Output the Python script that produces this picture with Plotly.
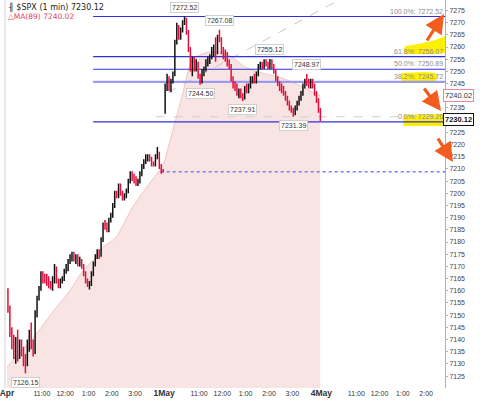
import plotly.graph_objects as go

# ---------------- data ----------------
SESSION = 405  # minutes per day column (09:30 - 16:15)

apr_open = [7160, 7153, 7143, 7138, 7135, 7139, 7133, 7138, 7135, 7131,
            7130, 7138, 7142, 7139, 7135, 7150, 7157, 7161, 7166, 7165,
            7165, 7163, 7162, 7161, 7165, 7169, 7164, 7162, 7164, 7165,
            7168, 7170, 7172, 7174, 7175, 7173, 7174, 7171, 7172, 7170,
            7167, 7164, 7162, 7163, 7167, 7171, 7174, 7176, 7175, 7181,
            7187, 7186, 7185, 7189, 7191, 7195, 7200, 7199, 7203, 7200,
            7198, 7199, 7201, 7205, 7207, 7206, 7205, 7204, 7205, 7208,
            7211, 7213, 7215, 7215, 7214, 7212, 7212, 7215, 7216, 7211, 7209]
apr_high = [7161, 7154, 7145, 7142, 7141, 7144, 7140, 7140, 7137, 7134,
            7140, 7144, 7147, 7140, 7152, 7158, 7162, 7168, 7168, 7167,
            7167, 7166, 7164, 7166, 7171, 7170, 7165, 7165, 7166, 7169,
            7171, 7173, 7175, 7176, 7176, 7175, 7175, 7174, 7173, 7171,
            7168, 7165, 7164, 7168, 7172, 7175, 7177, 7177, 7182, 7188,
            7189, 7188, 7190, 7192, 7196, 7201, 7201, 7204, 7204, 7201,
            7200, 7202, 7206, 7209, 7209, 7208, 7207, 7206, 7209, 7212,
            7214, 7216, 7216, 7216, 7215, 7213, 7216, 7219, 7217, 7212, 7210]
apr_low = [7151, 7141, 7136, 7132, 7130, 7131, 7132, 7133, 7129, 7126.15,
           7129, 7135, 7136, 7133, 7134, 7149, 7156, 7160, 7163, 7163,
           7162, 7161, 7160.5, 7160, 7163, 7163, 7161, 7161, 7163, 7164,
           7167, 7168, 7171, 7172, 7172, 7171, 7170, 7170, 7169, 7166,
           7163, 7161.5, 7160.5, 7162, 7166, 7170, 7173, 7173, 7174, 7180,
           7185, 7184, 7184, 7188, 7190, 7194, 7198, 7198, 7199, 7197,
           7197, 7198, 7200, 7204, 7205, 7204, 7203, 7203, 7204, 7207,
           7210, 7212, 7213, 7213, 7211, 7211, 7211, 7214, 7210, 7208, 7208.5]
apr_close = [7153, 7143, 7138, 7135, 7139, 7133, 7138, 7135, 7131, 7130,
             7138, 7142, 7139, 7135, 7150, 7157, 7161, 7166, 7165, 7165,
             7163, 7162, 7161, 7165, 7169, 7164, 7162, 7164, 7165, 7168,
             7170, 7172, 7174, 7175, 7173, 7174, 7171, 7172, 7170, 7167,
             7164, 7162, 7163, 7167, 7171, 7174, 7176, 7175, 7181, 7187,
             7186, 7185, 7189, 7191, 7195, 7200, 7199, 7203, 7200, 7198,
             7199, 7201, 7205, 7207, 7206, 7205, 7204, 7205, 7208, 7211,
             7213, 7215, 7215, 7214, 7212, 7212, 7215, 7216, 7211, 7209, 7208.8]

may_open = [7233, 7243, 7247, 7243, 7246, 7249, 7262, 7268, 7264, 7267,
            7270, 7271, 7266, 7259, 7252, 7254, 7251, 7253, 7248, 7246,
            7250, 7251, 7254, 7255, 7256, 7258, 7260, 7258, 7264, 7263,
            7258, 7257, 7256, 7253, 7252, 7247, 7244, 7243, 7241, 7242,
            7240, 7239, 7243, 7242, 7244, 7246, 7247, 7246, 7249, 7252,
            7253, 7252, 7254, 7253, 7252, 7254, 7252, 7250, 7247, 7245,
            7244, 7242, 7241, 7239, 7237, 7235, 7234, 7233, 7235, 7237,
            7239, 7241, 7244, 7246, 7245, 7244, 7246, 7244, 7241, 7238, 7234]
may_high = [7245, 7249, 7248, 7247, 7250, 7263, 7270, 7269, 7268, 7271,
            7272.52, 7272, 7267, 7260, 7256, 7256, 7255, 7254, 7249, 7251,
            7252, 7255, 7256, 7257, 7260, 7261, 7264, 7265, 7267.08, 7264,
            7260, 7259, 7258, 7255, 7253, 7248, 7246, 7245, 7243, 7243,
            7241, 7244, 7245, 7245, 7248, 7248, 7249, 7250, 7253, 7254,
            7254, 7255, 7255, 7254, 7255.12, 7255, 7253, 7251, 7248, 7246,
            7245, 7244, 7242, 7240, 7238, 7236, 7235, 7236, 7238, 7240,
            7242, 7245, 7247, 7248.97, 7247, 7247, 7247, 7245, 7242, 7239, 7235]
may_low = [7232.6, 7242, 7242, 7241.5, 7245, 7248, 7261, 7263, 7263, 7266,
           7269, 7265, 7258, 7250, 7248, 7250, 7250, 7247, 7244.5, 7245,
           7248, 7250, 7252, 7253, 7255, 7256, 7254, 7257, 7262, 7257,
           7255, 7254, 7252, 7251, 7246, 7243, 7242, 7240, 7239, 7239,
           7237.91, 7238.5, 7241, 7241, 7243, 7245, 7245, 7245, 7248, 7251,
           7251, 7251, 7252, 7251, 7251, 7251, 7249, 7246, 7244, 7242,
           7241, 7240, 7238, 7236, 7234, 7233, 7231.39, 7232, 7234, 7236,
           7238, 7240, 7243, 7244, 7243, 7243, 7243, 7240, 7237, 7233, 7229.5]
may_close = [7243, 7247, 7243, 7246, 7249, 7262, 7268, 7264, 7267, 7270,
             7271, 7266, 7259, 7252, 7254, 7251, 7253, 7248, 7246, 7250,
             7251, 7254, 7255, 7256, 7258, 7260, 7258, 7264, 7263, 7258,
             7257, 7256, 7253, 7252, 7247, 7244, 7243, 7241, 7242, 7240,
             7239, 7243, 7242, 7244, 7246, 7247, 7246, 7249, 7252, 7253,
             7252, 7254, 7253, 7252, 7254, 7252, 7250, 7247, 7245, 7244,
             7242, 7241, 7239, 7237, 7235, 7234, 7233, 7235, 7237, 7239,
             7241, 7244, 7246, 7245, 7244, 7246, 7244, 7241, 7238, 7234, 7230.12]

# MA(89): (day index, clock time, value)
ma_day = [0, 0, 0, 0, 0, 0, 0, 0, 0, 0, 0,
          1, 1, 1, 1, 1, 1, 1, 1, 1, 1, 1, 1, 1]
ma_clock = ["09:30", "10:39", "11:30", "12:13", "12:47", "13:12", "13:38", "14:11", "14:54", "15:38", "16:11",
            "09:30", "09:51", "10:17", "10:42", "11:16", "11:59", "12:25", "12:58", "13:41", "14:25", "15:05", "15:41", "16:12"]
ma_values = [7128.7, 7141.0, 7151.7, 7160.3, 7168.5, 7172.6, 7177.9, 7182.0, 7194.4, 7204.2, 7211.2,
             7212.8, 7225.1, 7240.3, 7254.7, 7257.6, 7258.0, 7255.9, 7251.8, 7249.4, 7247.7, 7245.3, 7242.4, 7240.02]

fib_names = ["100.0%", "61.8%", "50.0%", "38.2%", "0.0%"]
fib_values = [7272.52, 7256.07, 7250.89, 7245.72, 7229.26]
fib_start = (0, "13:12")

prev_close = 7208.80
prev_close_start = (0, "16:06")
low_line = 7231.39
low_line_start = (0, "15:53")
trend_pts = [(1, "09:39", 7241.2), (2, "10:15", 7279.3)]

ext_above = [7272.52, 7267.08, 7255.12, 7248.97]
ext_below = [7244.50, 7237.91, 7231.39, 7126.15]

last_price = 7230.12
ma_last = 7240.02

tick_day = [0, 0, 0, 0, 0, 0, 1, 1, 1, 1, 1, 1, 2, 2, 2, 2, 2]
tick_clock = ["09:30", "11:00", "12:00", "13:00", "14:00", "15:00",
              "09:30", "11:00", "12:00", "13:00", "14:00", "15:00",
              "09:30", "11:00", "12:00", "13:00", "14:00"]
tick_labels = ["Apr", "11:00", "12:00", "1:00", "2:00", "3:00",
               "1May", "11:00", "12:00", "1:00", "2:00", "3:00",
               "4May", "11:00", "12:00", "1:00", "2:00"]
day_labels = {"Apr", "1May", "4May"}
y_ticks = [7125, 7130, 7135, 7140, 7145, 7150, 7155, 7160, 7165, 7170, 7175, 7180, 7185, 7190, 7195,
           7200, 7205, 7210, 7215, 7220, 7225, 7230, 7235, 7240, 7245, 7250, 7255, 7260, 7265, 7270, 7275]

# ---------------- helpers ----------------
def tpos(day, clock):
    h, m = map(int, clock.split(":"))
    return day * SESSION + h * 60 + m - 570

W, H = 480, 400
ML, MR, MT, MB = 0, 35, 0, 12
PW, PH = W - ML - MR, H - MT - MB
PX_PER_MIN = 23.5 / 60.0
X0PX = 3.0
x_range = [(0 - X0PX) / PX_PER_MIN, (PW - X0PX) / PX_PER_MIN]
y_range = [7120.1, 7279.3]

def px(xp):  # pixel -> paper x
    return (xp - ML) / PW

def py(yp):  # pixel -> paper y
    return 1 - (yp - MT) / PH

bar_x = [tpos(0, "09:30") + 5 * i + 2.5 for i in range(len(apr_open))] + \
        [tpos(1, "09:30") + 5 * i + 2.5 for i in range(len(may_open))]
opens = apr_open + may_open
highs = apr_high + may_high
lows = apr_low + may_low
closes = apr_close + may_close

fig = go.Figure()

# MA(89) area
fig.add_trace(go.Scatter(
    x=[tpos(d, c) for d, c in zip(ma_day, ma_clock)], y=ma_values,
    mode="lines", line=dict(color="#f0c6c6", width=1, shape="spline", smoothing=0.6),
    fill="tozeroy", fillcolor="#f9e4e4", hoverinfo="skip"))

# trend line (gray dashed)
fig.add_trace(go.Scatter(
    x=[tpos(d, c) for d, c, v in trend_pts], y=[v for d, c, v in trend_pts],
    mode="lines", line=dict(color="#c8c8c8", width=1, dash="dash"), hoverinfo="skip"))

# low line (gray dashed)
fig.add_trace(go.Scatter(
    x=[tpos(*low_line_start), x_range[1]], y=[low_line, low_line],
    mode="lines", line=dict(color="#cfcfcf", width=1, dash="dash"), hoverinfo="skip"))

# previous close (dotted blue)
fig.add_trace(go.Scatter(
    x=[tpos(*prev_close_start), x_range[1]], y=[prev_close, prev_close],
    mode="lines", line=dict(color="#7a7af5", width=1.5, dash="dot"), hoverinfo="skip"))

# fib lines
for name, v in zip(fib_names, fib_values):
    light = name == "38.2%"
    fig.add_trace(go.Scatter(
        x=[tpos(*fib_start), x_range[1]], y=[v, v], mode="lines",
        line=dict(color="#9a9af2" if light else "#3030e0", width=2.4 if light else 1.2),
        hoverinfo="skip"))

# price bars (on an overlaid axis so they are drawn above the MA area)
fig.add_trace(go.Ohlc(
    x=bar_x, open=opens, high=highs, low=lows, close=closes, yaxis="y2",
    increasing=dict(line=dict(color="#111111", width=1.5)),
    decreasing=dict(line=dict(color="#e0103c", width=1.5)),
    tickwidth=0.35, hoverinfo="skip"))

annotations = []
lab_font = dict(family="Liberation Sans", size=7, color="#333")
for v in ext_above:
    k = highs.index(v)
    annotations.append(dict(x=bar_x[k], y=v, xref="x", yref="y", text=f"{v:.2f}", showarrow=False,
                            yshift=9, font=lab_font, bgcolor="white", bordercolor="#cfcfcf",
                            borderwidth=1, borderpad=1))
for v in ext_below:
    k = lows.index(v)
    annotations.append(dict(x=bar_x[k], y=v, xref="x", yref="y", text=f"{v:.2f}", showarrow=False,
                            yshift=-9, font=lab_font, bgcolor="white", bordercolor="#cfcfcf",
                            borderwidth=1, borderpad=1))

# fib texts
for name, v in zip(fib_names, fib_values):
    annotations.append(dict(x=1, y=v, xref="paper", yref="y", xanchor="right", yanchor="bottom",
                            text=f"{name}: {v:.2f}", showarrow=False, yshift=0,
                            font=dict(family="Liberation Sans", size=7, color="#8c8c8c")))

# header
annotations.append(dict(x=px(2), y=py(7), xref="paper", yref="paper", xanchor="left", yanchor="middle",
                        text="╢ $SPX (1 min) 7230.12", showarrow=False,
                        font=dict(family="DejaVu Sans", size=8, color="#222")))
annotations.append(dict(x=px(2), y=py(17), xref="paper", yref="paper", xanchor="left", yanchor="middle",
                        text="△MA(89) 7240.02", showarrow=False,
                        font=dict(family="DejaVu Sans", size=7.5, color="#e0426a")))

# right-axis value boxes
annotations.append(dict(x=px(443), y=ma_last, xref="paper", yref="y", xanchor="left", yanchor="middle",
                        text=f"{ma_last:.2f}", showarrow=False, bgcolor="white", bordercolor="#e8869c",
                        borderwidth=1, borderpad=1,
                        font=dict(family="Liberation Sans", size=7.5, color="#333")))
annotations.append(dict(x=px(443), y=last_price, xref="paper", yref="y", xanchor="left", yanchor="middle",
                        text=f"<b>{last_price:.2f}</b>", showarrow=False, bgcolor="white", bordercolor="#111",
                        borderwidth=1, borderpad=1,
                        font=dict(family="Liberation Sans", size=7.5, color="#111")))

# orange arrows (head, tail in pixels)
for (hx, hy), (tx, ty) in [((444, 14), (426, 42)), ((441, 111), (423, 87)), ((453, 162), (437, 137))]:
    annotations.append(dict(x=px(hx), y=py(hy), xref="paper", yref="paper", ax=tx - hx, ay=ty - hy,
                            axref="pixel", ayref="pixel", text="", showarrow=True,
                            arrowhead=2, arrowsize=1.2, arrowwidth=3.2, arrowcolor="#f25c1e"))

def path(points):
    return "M " + " L ".join(f"{px(a):.4f},{py(b):.4f}" for a, b in points) + " Z"

shapes = []
yellow = "#fff000"
for pts in [[(405, 46), (418, 44), (432, 41), (446, 36), (446, 53), (430, 54), (405, 54), (403, 50)],
            [(401, 73), (425, 72), (435, 73), (438, 77), (435, 82), (401, 83)],
            [(403, 115), (444, 114), (444, 126), (403, 126)]]:
    shapes.append(dict(type="path", path=path(pts), xref="paper", yref="paper",
                       fillcolor=yellow, line=dict(width=0), layer="below"))
shapes.append(dict(type="line", x0=px(1), x1=px(1), y0=0, y1=1, xref="paper", yref="paper",
                   line=dict(color="#d0d0d0", width=1)))

tick_text = []
for lab in tick_labels:
    if lab in day_labels:
        tick_text.append(f"<span style='font-size:8.5px'><b>{lab}</b></span>")
    else:
        tick_text.append(lab)

# tick labels hidden under the value boxes
covered = {round(last_price / 5) * 5, round(ma_last / 5) * 5}
y_ticktext = ["" if v in covered else str(v) for v in y_ticks]

fig.update_layout(
    width=W, height=H, margin=dict(l=ML, r=MR, t=MT, b=MB),
    paper_bgcolor="white", plot_bgcolor="white", showlegend=False,
    annotations=annotations, shapes=shapes,
    xaxis=dict(range=x_range, tickvals=[tpos(d, c) for d, c in zip(tick_day, tick_clock)],
               ticktext=tick_text, showgrid=False, zeroline=False, showline=False, ticks="",
               tickfont=dict(family="Liberation Sans", size=7, color="#333"),
               ticklabeloverflow="allow",
               rangeslider=dict(visible=False), fixedrange=True),
    yaxis=dict(side="right", range=y_range, tickvals=y_ticks, ticktext=y_ticktext,
               showgrid=False, zeroline=False, showline=True, linecolor="#b0b0b0", linewidth=1,
               ticks="outside", ticklen=2, tickcolor="#b0b0b0",
               tickfont=dict(family="Liberation Sans", size=7, color="#444"), fixedrange=True),
    yaxis2=dict(overlaying="y", range=y_range, visible=False, fixedrange=True),
)

fig.write_html("out.html")
